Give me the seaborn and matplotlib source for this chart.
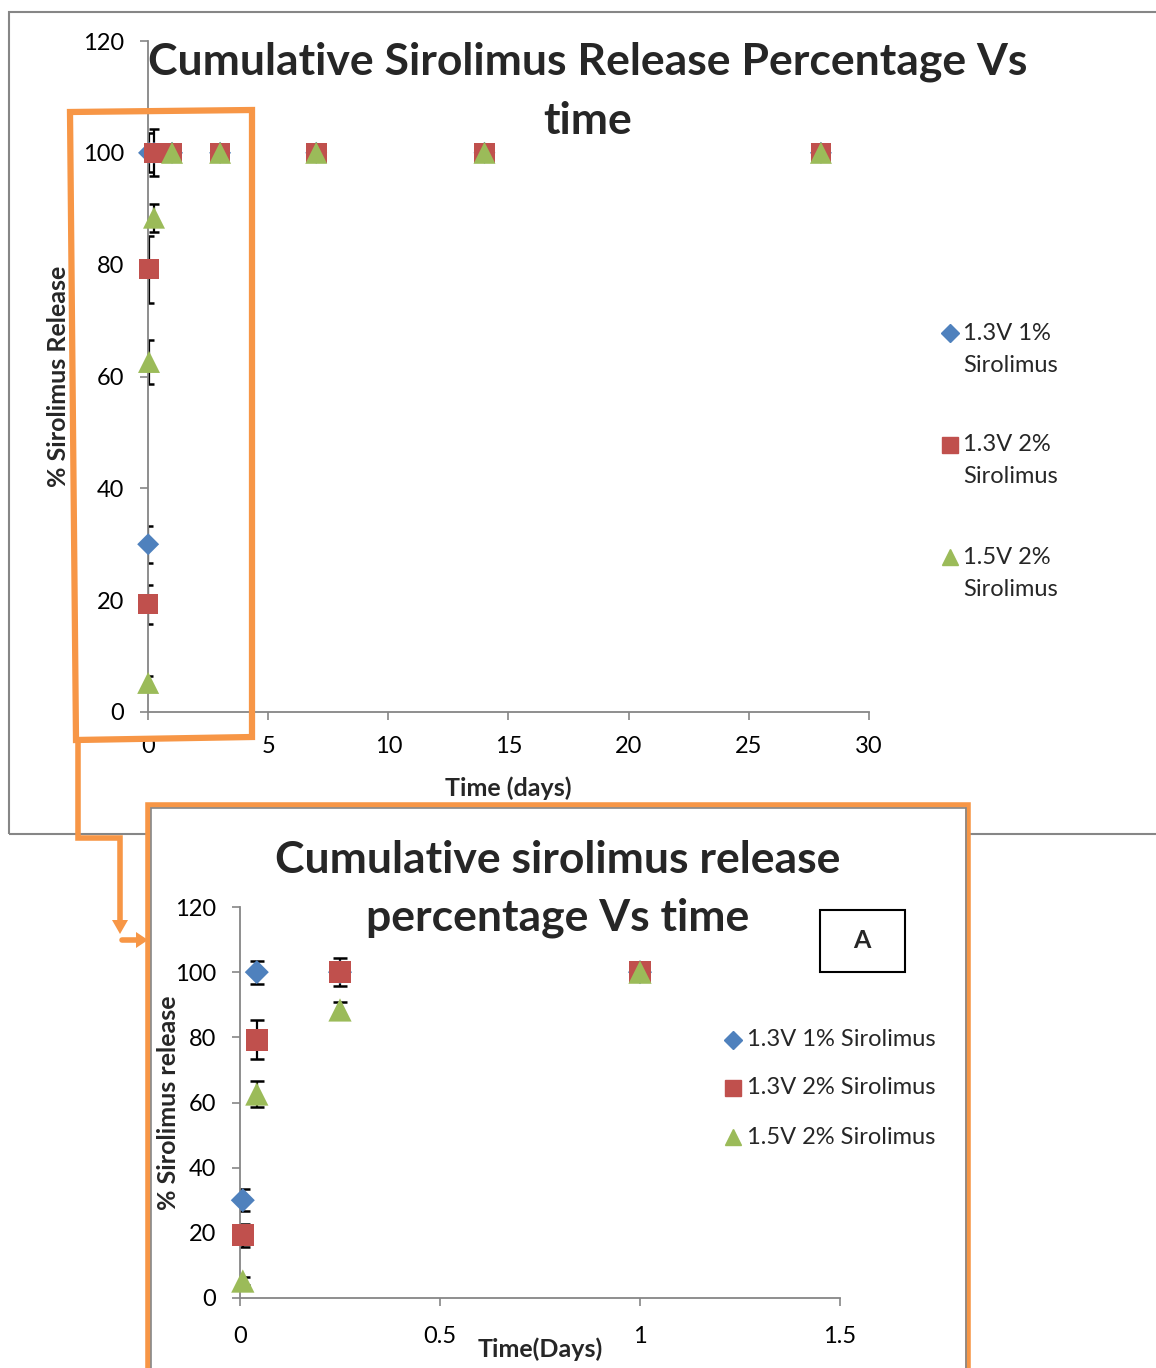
import matplotlib
matplotlib.use("Agg")
import matplotlib.pyplot as plt
import pandas as pd
import seaborn as sns
from matplotlib.lines import Line2D
from matplotlib.patches import Rectangle, Polygon

# time points (days)
times = [0.007, 0.042, 0.25, 1, 3, 7, 14, 28]

series_names = ["1.3V 1% Sirolimus", "1.3V 2% Sirolimus", "1.5V 2% Sirolimus"]
release_13v_1 = [30.0, 100, 100, 100, 100, 100, 100, 100]
err_13v_1 = [3.3, 3.5, 0, 0, 0, 0, 0, 0]
release_13v_2 = [19.3, 79.2, 100, 100, 100, 100, 100, 100]
err_13v_2 = [3.5, 6.0, 4.2, 0, 0, 0, 0, 0]
release_15v_2 = [5.2, 62.6, 88.4, 100, 100, 100, 100, 100]
err_15v_2 = [1.3, 4.0, 2.5, 0, 0, 0, 0, 0]

colors = {"1.3V 1% Sirolimus": "#4F81BD",
          "1.3V 2% Sirolimus": "#C0504D",
          "1.5V 2% Sirolimus": "#9BBB59"}
markers = {"1.3V 1% Sirolimus": "D",
           "1.3V 2% Sirolimus": "s",
           "1.5V 2% Sirolimus": "^"}

rows = []
for name, rel, err in zip(series_names,
                          [release_13v_1, release_13v_2, release_15v_2],
                          [err_13v_1, err_13v_2, err_15v_2]):
    for t, r, e in zip(times, rel, err):
        rows.append({"time": t, "release": r, "err": e, "series": name})
df = pd.DataFrame(rows)

sns.set_theme(style="ticks")
plt.rcParams["font.family"] = ["Lato", "DejaVu Sans"]

W, H = 1156, 1368
GRAY = "#868686"
ORANGE = "#F79646"
TICK_FS = 17
LABEL_FS = 18
TITLE_FS = 32


def fx(x):
    return x / W


def fy(y):
    return 1 - y / H


def draw_panel(ax, data, sizes, capsize):
    for name in series_names:
        sub = data[(data["series"] == name) & (data["err"] > 0)]
        ax.errorbar(sub["time"], sub["release"], yerr=sub["err"], fmt="none",
                    ecolor="black", elinewidth=1.6, capsize=capsize,
                    capthick=1.8, zorder=2)
    sns.scatterplot(data=data, x="time", y="release", hue="series",
                    style="series", size="series", sizes=sizes,
                    markers=markers, palette=colors, hue_order=series_names,
                    style_order=series_names, size_order=series_names,
                    linewidth=0, legend=False, ax=ax, zorder=3, clip_on=False)
    ax.set_ylim(0, 120)
    ax.set_yticks(range(0, 121, 20))
    sns.despine(ax=ax)
    for s in ["left", "bottom"]:
        ax.spines[s].set_color(GRAY)
        ax.spines[s].set_linewidth(1.3)
    ax.tick_params(direction="out", length=6, width=1.2, color=GRAY,
                   labelsize=TICK_FS, labelcolor="black", pad=11)
    ax.set_facecolor("none")


fig = plt.figure(figsize=(W / 100, H / 100), dpi=100)

# outer border of the top chart
fig.add_artist(Rectangle((fx(9), fy(834)), fx(1200), 822 / H, fill=False,
                         edgecolor=GRAY, linewidth=1.5, zorder=0.5,
                         transform=fig.transFigure, clip_on=False))

# top chart
ax1 = fig.add_axes([fx(148), fy(712), 721 / W, 671 / H], zorder=1)
draw_panel(ax1, df, {series_names[0]: 125, series_names[1]: 220,
                     series_names[2]: 250}, 3.5)
ax1.set_xlim(0, 30)
ax1.set_xticks(range(0, 31, 5))
ax1.set_xlabel("Time (days)", fontsize=LABEL_FS, fontweight="bold")
ax1.set_ylabel("% Sirolimus Release", fontsize=LABEL_FS, fontweight="bold")
ax1.xaxis.set_label_coords(0.5, -0.096)
ax1.yaxis.set_label_coords(-0.108, 0.5)
fig.text(fx(588), fy(62), "Cumulative Sirolimus Release Percentage Vs",
         ha="center", va="center", fontsize=TITLE_FS, fontweight="bold")
fig.text(fx(588), fy(121), "time", ha="center", va="center",
         fontsize=TITLE_FS, fontweight="bold")

top_leg_y = [333, 445, 557]
for name, y in zip(series_names, top_leg_y):
    fig.add_artist(Line2D([fx(950)], [fy(y)], marker=markers[name],
                          color=colors[name],
                          markersize=9 if markers[name] == "D" else 12,
                          linestyle="none", transform=fig.transFigure))
    first, second = name.rsplit(" ", 1)
    fig.text(fx(963), fy(y), first, ha="left", va="center", fontsize=TICK_FS)
    fig.text(fx(963), fy(y + 32), second, ha="left", va="center",
             fontsize=TICK_FS)

# inset box
fig.add_artist(Rectangle((fx(148), fy(1400)), 820 / W, 595 / H,
                         facecolor="white", edgecolor=ORANGE, linewidth=4,
                         zorder=1.5, transform=fig.transFigure, clip_on=False))
fig.add_artist(Rectangle((fx(151), fy(1400)), 815 / W, 592 / H,
                         fill=False, edgecolor=GRAY, linewidth=1.2,
                         zorder=1.6, transform=fig.transFigure, clip_on=False))

inset = df[df["time"] <= 1]
ax2 = fig.add_axes([fx(240), fy(1298), 600 / W, 391 / H], zorder=2)
draw_panel(ax2, inset, {series_names[0]: 150, series_names[1]: 260,
                        series_names[2]: 280}, 5)
ax2.set_xlim(0, 1.5)
ax2.set_xticks([0, 0.5, 1, 1.5], ["0", "0.5", "1", "1.5"])
ax2.set_xlabel("Time(Days)", fontsize=LABEL_FS, fontweight="bold")
ax2.set_ylabel("% Sirolimus release", fontsize=LABEL_FS, fontweight="bold")
ax2.xaxis.set_label_coords(0.5, -0.1)
ax2.yaxis.set_label_coords(-0.1, 0.5)
ax2.tick_params(axis="x", pad=14)
fig.text(fx(558), fy(860), "Cumulative sirolimus release", ha="center",
         va="center", fontsize=TITLE_FS, fontweight="bold", zorder=3)
fig.text(fx(558), fy(918), "percentage Vs time", ha="center", va="center",
         fontsize=TITLE_FS, fontweight="bold", zorder=3)

fig.add_artist(Rectangle((fx(820), fy(972)), 85 / W, 62 / H, fill=False,
                         edgecolor="black", linewidth=1.5, zorder=3,
                         transform=fig.transFigure))
fig.text(fx(862), fy(941), "A", ha="center", va="center", fontsize=18,
         fontweight="bold", zorder=3)

in_leg_y = [1040, 1088, 1137]
for name, y in zip(series_names, in_leg_y):
    fig.add_artist(Line2D([fx(733)], [fy(y)], marker=markers[name],
                          color=colors[name],
                          markersize=9 if markers[name] == "D" else 12,
                          linestyle="none", transform=fig.transFigure,
                          zorder=3))
    fig.text(fx(747), fy(y), name, ha="left", va="center", fontsize=TICK_FS,
             zorder=3)

# orange zoom frame and connector
fig.add_artist(Polygon([(fx(70), fy(112)), (fx(252), fy(110)),
                        (fx(252), fy(737)), (fx(76), fy(740))], closed=True,
                       fill=False, edgecolor=ORANGE, linewidth=4.5, zorder=4,
                       transform=fig.transFigure))
fig.add_artist(Line2D([fx(78), fx(78), fx(120), fx(120)],
                      [fy(740), fy(838), fy(838), fy(922)], color=ORANGE,
                      linewidth=4, zorder=4, transform=fig.transFigure,
                      solid_joinstyle="miter"))
fig.add_artist(Polygon([(fx(112), fy(920)), (fx(128), fy(920)),
                        (fx(120), fy(934))], closed=True, facecolor=ORANGE,
                       edgecolor="none", zorder=4, transform=fig.transFigure))
fig.add_artist(Line2D([fx(122), fx(138)], [fy(940), fy(940)], color=ORANGE,
                      linewidth=4, zorder=4, transform=fig.transFigure))
fig.add_artist(Polygon([(fx(136), fy(932)), (fx(136), fy(948)),
                        (fx(148), fy(940))], closed=True, facecolor=ORANGE,
                       edgecolor="none", zorder=4, transform=fig.transFigure))

fig.savefig("out.png", dpi=100)
plt.close(fig)
